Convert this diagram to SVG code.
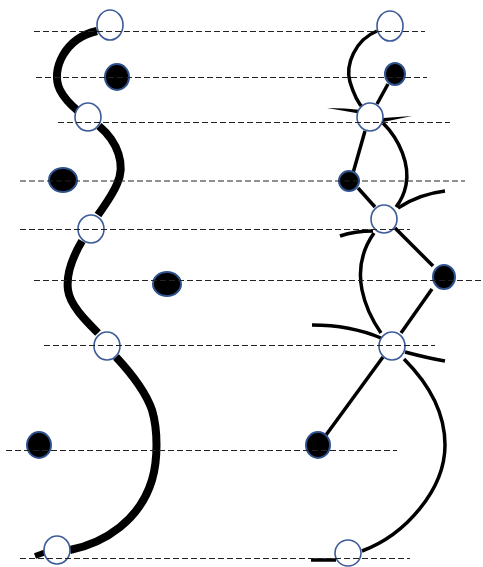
<svg xmlns="http://www.w3.org/2000/svg" width="483" height="567" viewBox="0 0 483 567">
<style>
.guide{stroke:#222;stroke-width:1.2;stroke-dasharray:6,3;fill:none}
.thick{stroke:#000;stroke-width:8;fill:none;stroke-linecap:butt}
.thin{stroke:#000;stroke-width:3.5;fill:none}
.open{fill:#fff;stroke:#3d5c99;stroke-width:1.6}
.full{fill:#000;stroke:#2f528f;stroke-width:2}
</style>
<rect width="483" height="567" fill="#fff"/>
<g id="connectors">
<path class="thick" d="M97,31 C65,38 50,70 60,90 C65,100 72,106 78,111"/>
<path class="thick" d="M99,126 C118,142 126,165 117,184 C112,196 104,206 98,215"/>
<path class="thick" d="M82,241 C72,258 66,275 68,290 C70,305 85,320 98,333"/>
<path class="thick" d="M116,357 C130,372 145,390 152,410 C158,430 158,460 152,480 C140,520 105,543 70,550"/>
<path d="M35,556 L46,552" stroke="#000" stroke-width="6" fill="none"/>
<path class="thin" d="M377,31 C355,40 345,65 350,82 C354,95 358,103 363,108"/>
<path class="thin" d="M388,84 L377,104"/>
<path class="thin" d="M365,131 L353,173"/>
<path class="thin" d="M383,123 C400,140 410,165 406,185 C404,195 400,202 396,207"/>
<path class="thin" d="M358,188 L375,207"/>
<path class="thin" d="M398,208 C410,200 428,193 445,191"/>
<path class="thin" d="M340,236 C352,232 362,231 373,231"/>
<path class="thin" d="M374,233 C362,250 358,270 362,290 C365,305 372,320 381,333"/>
<path class="thin" d="M395,228 L433,266"/>
<path class="thin" d="M432,289 L401,333"/>
<path class="thin" d="M312,325 C340,325 362,330 381,338"/>
<path class="thin" d="M405,352 C420,356 433,359 445,361"/>
<path class="thin" d="M383,357 L326,435"/>
<path class="thin" d="M404,359 C425,380 445,410 445,445 C445,490 405,535 362,551"/>
<path class="thin" d="M311,560 L336,560"/>
<path d="M327,108 Q345,108 362,110 L362,114 Q345,111 327,108 Z" fill="#000"/>
<path d="M383,118 Q398,117 412,116 Q398,119 383,122 Z" fill="#000"/>
</g>
<g id="n1"><ellipse class="open" cx="110" cy="25" rx="13" ry="15"/></g>
<g id="n2"><ellipse class="full" cx="117" cy="77" rx="12" ry="13"/></g>
<g id="n3"><ellipse class="open" cx="88" cy="117" rx="13" ry="14"/></g>
<g id="n4"><ellipse class="full" cx="63" cy="180" rx="14" ry="12"/></g>
<g id="n5"><ellipse class="open" cx="91" cy="229" rx="13" ry="14"/></g>
<g id="n6"><ellipse class="full" cx="167" cy="284" rx="14" ry="12"/></g>
<g id="n7"><ellipse class="open" cx="107" cy="346" rx="13" ry="14"/></g>
<g id="n8"><ellipse class="full" cx="39" cy="445" rx="12" ry="13"/></g>
<g id="n9"><ellipse class="open" cx="57" cy="550" rx="13" ry="14"/></g>
<g id="m1"><ellipse class="open" cx="390" cy="26" rx="13" ry="15"/></g>
<g id="m2"><ellipse class="full" cx="395" cy="74" rx="10" ry="11"/></g>
<g id="m3"><ellipse class="open" cx="370" cy="117" rx="13" ry="14"/></g>
<g id="m4"><ellipse class="full" cx="349" cy="181" rx="10" ry="10"/></g>
<g id="m5"><ellipse class="open" cx="384" cy="219" rx="13" ry="14"/></g>
<g id="m6"><ellipse class="full" cx="444" cy="277" rx="11" ry="12"/></g>
<g id="m7"><ellipse class="open" cx="392" cy="346" rx="13" ry="14"/></g>
<g id="m8"><ellipse class="full" cx="318" cy="445" rx="12" ry="13"/></g>
<g id="m9"><ellipse class="open" cx="348" cy="553" rx="13" ry="13"/></g>
<g id="guides">
<line class="guide" x1="34" y1="31.5" x2="425" y2="31.5"/>
<line class="guide" x1="36" y1="77.5" x2="427" y2="77.5"/>
<line class="guide" x1="58" y1="122.5" x2="450" y2="122.5"/>
<line class="guide" x1="20" y1="181" x2="465" y2="181"/>
<line class="guide" x1="20" y1="229.5" x2="410" y2="229.5"/>
<line class="guide" x1="34" y1="280.5" x2="483" y2="280.5"/>
<line class="guide" x1="44" y1="345.5" x2="435" y2="345.5"/>
<line class="guide" x1="6" y1="450.5" x2="397" y2="450.5"/>
<line class="guide" x1="20" y1="558.5" x2="410" y2="558.5"/>
</g>
</svg>
